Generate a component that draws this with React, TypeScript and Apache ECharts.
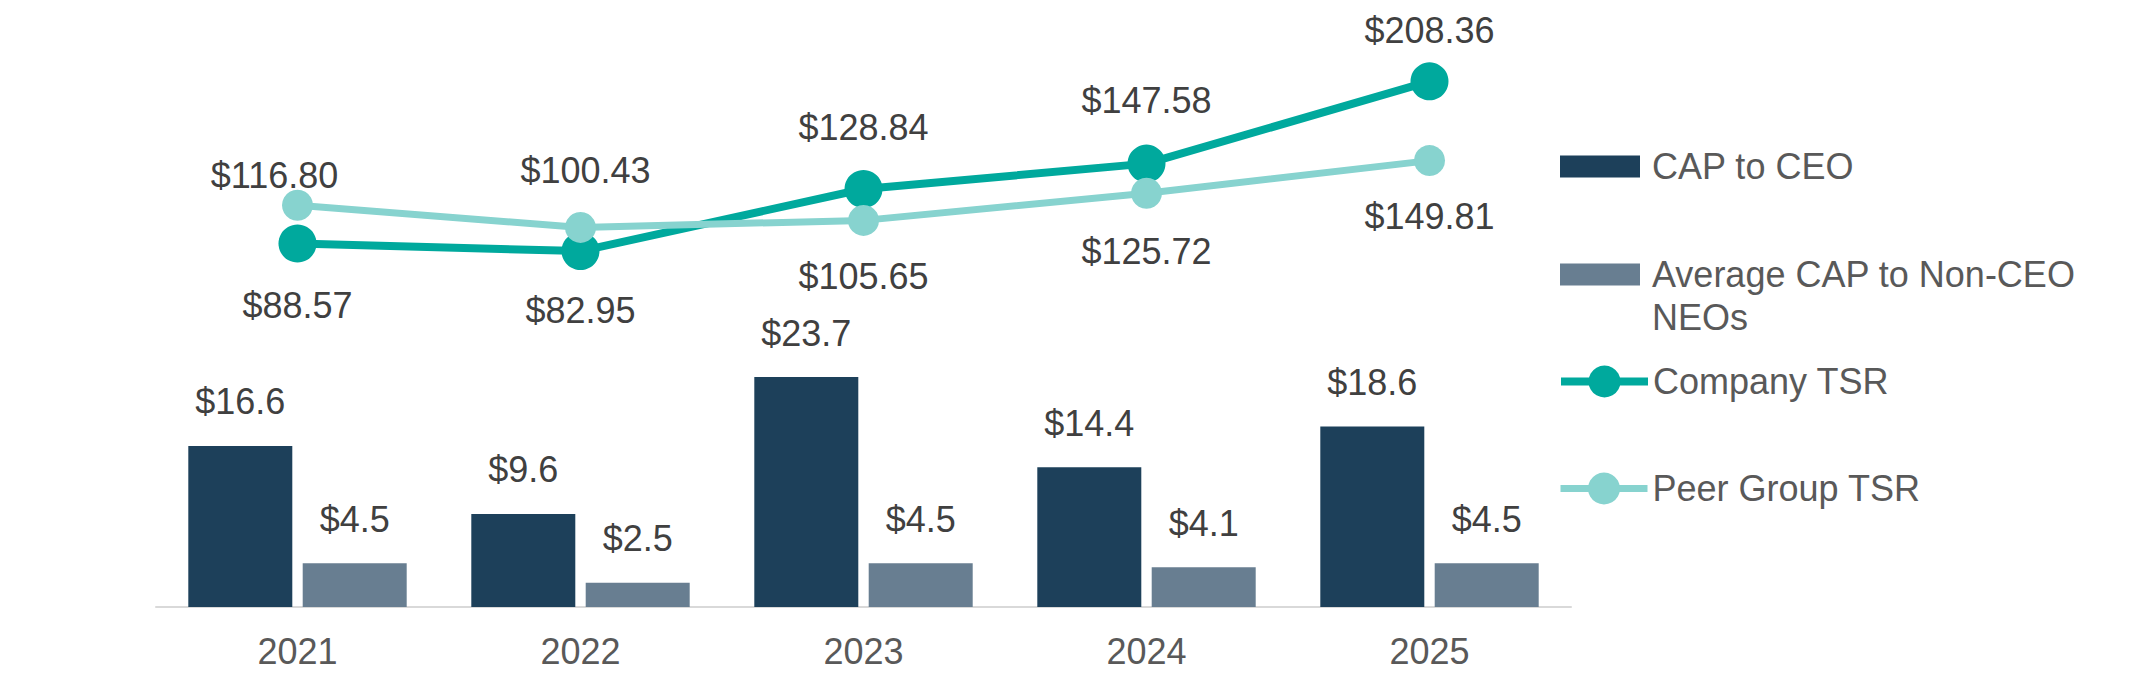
import React, { useEffect, useRef } from "react";
import * as echarts from "echarts";

const years = ["2021", "2022", "2023", "2024", "2025"];
const capCeo = [16.6, 9.6, 23.7, 14.4, 18.6];
const capNonCeo = [4.5, 2.5, 4.5, 4.1, 4.5];
const companyTsr = [88.57, 82.95, 128.84, 147.58, 208.36];
const peerTsr = [116.8, 100.43, 105.65, 125.72, 149.81];

// label offsets (px, relative to point centre)
const companyLabelDy = [62, 59, -61, -63, -51];
const peerLabelOffset: [number, number][] = [[-23, -30], [5, -57], [0, 56], [0, 58], [0, 56]];

const FONT = "'Liberation Sans', Arial, sans-serif";
const FS = 36;
const LABEL = "#404040";
const AXISTXT = "#595959";
const C_CEO = "#1D405A";
const C_NEO = "#687E91";
const C_COMP = "#00A99D";
const C_PEER = "#87D3CF";

export default function App() {
  const ref = useRef<HTMLDivElement>(null);
  useEffect(() => {
    if (!ref.current) return;
    const chart = echarts.init(ref.current, undefined, { renderer: "svg" });
    const money1 = (v: number) => "$" + v.toFixed(1);
    const money2 = (v: number) => "$" + v.toFixed(2);
    const legendText = (pad: number) => ({
      fontFamily: FONT,
      fontSize: FS,
      color: AXISTXT,
      lineHeight: 43,
      padding: [0, 0, 0, pad],
    });
    chart.setOption({
      animation: false,
      textStyle: { fontFamily: FONT },
      grid: { left: 156, right: 561, top: 25, bottom: 75, containLabel: false },
      legend: [
        { orient: "vertical", padding: 0, textStyle: legendText(7), left: 1560, top: 145, itemWidth: 80, itemHeight: 22, icon: "rect", data: ["CAP to CEO"] },
        {
          orient: "vertical",
          padding: 0,
          textStyle: legendText(7),
          left: 1560,
          top: 210,
          itemWidth: 80,
          itemHeight: 22,
          icon: "rect",
          data: ["Average CAP to Non-CEO NEOs"],
          formatter: () => "\nAverage CAP to Non-CEO\nNEOs",
        },
        { orient: "vertical", padding: 0, textStyle: legendText(0), left: 1557, top: 360, itemWidth: 87, itemHeight: 40, lineStyle: { width: 8 }, data: ["Company TSR"] },
        { orient: "vertical", padding: 0, textStyle: legendText(0), left: 1557, top: 467, itemWidth: 87, itemHeight: 40, lineStyle: { width: 7 }, data: ["Peer Group TSR"] },
      ],
      xAxis: {
        type: "category",
        data: years,
        axisLine: { lineStyle: { color: "#D9D9D9", width: 2 } },
        axisTick: { show: false },
        axisLabel: { fontFamily: FONT, fontSize: FS, color: AXISTXT, margin: 26 },
      },
      yAxis: [
        { type: "value", min: 0, max: 60, show: false, splitLine: { show: false } },
        { type: "value", min: -180, max: 250, show: false, splitLine: { show: false } },
      ],
      series: [
        {
          name: "CAP to CEO",
          type: "bar",
          data: capCeo,
          barWidth: 104,
          barGap: "10%",
          itemStyle: { color: C_CEO },
          label: {
            show: true,
            position: "top",
            distance: 26,
            fontFamily: FONT,
            fontSize: FS,
            color: LABEL,
            formatter: (p: any) => money1(p.value),
          },
        },
        {
          name: "Average CAP to Non-CEO NEOs",
          type: "bar",
          data: capNonCeo,
          barWidth: 104,
          barGap: "10%",
          itemStyle: { color: C_NEO },
          label: {
            show: true,
            position: "top",
            distance: 26,
            fontFamily: FONT,
            fontSize: FS,
            color: LABEL,
            formatter: (p: any) => money1(p.value),
          },
        },
        {
          name: "Company TSR",
          type: "line",
          yAxisIndex: 1,
          data: companyTsr.map((v, i) => ({
            value: v,
            label: { offset: [0, companyLabelDy[i]] },
          })),
          symbol: "circle",
          symbolSize: 38,
          lineStyle: { color: C_COMP, width: 8 },
          itemStyle: { color: C_COMP },
          z: 4,
          label: {
            show: true,
            position: "inside",
            fontFamily: FONT,
            fontSize: FS,
            color: LABEL,
            formatter: (p: any) => money2(p.value),
          },
        },
        {
          name: "Peer Group TSR",
          type: "line",
          yAxisIndex: 1,
          data: peerTsr.map((v, i) => ({
            value: v,
            label: { offset: peerLabelOffset[i] },
          })),
          symbol: "circle",
          symbolSize: 31,
          lineStyle: { color: C_PEER, width: 7 },
          itemStyle: { color: C_PEER },
          z: 5,
          label: {
            show: true,
            position: "inside",
            fontFamily: FONT,
            fontSize: FS,
            color: LABEL,
            formatter: (p: any) => money2(p.value),
          },
        },
      ],
    });
    return () => chart.dispose();
  }, []);
  return (
    <div
      ref={ref}
      style={{ position: "fixed", left: 0, top: 0, width: 2132, height: 682, background: "#ffffff" }}
    />
  );
}
